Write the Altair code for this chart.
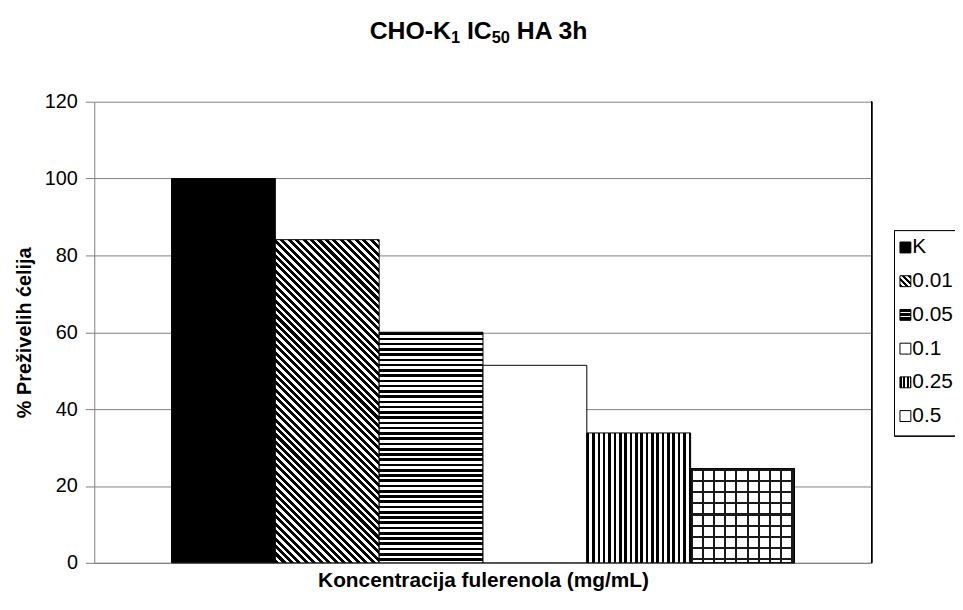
import math
import altair as alt
import pandas as pd

# ---------------- data ----------------
categories = ["K", "0.01", "0.05", "0.1", "0.25", "0.5"]
values = [100, 84.1, 60.0, 51.4, 33.8, 24.5]
y_ticks = [0, 20, 40, 60, 80, 100, 120]

# title pieces: (text, is_subscript)
title_parts = [("CHO-K", False), ("1", True), (" IC", False), ("50", True), (" HA 3h", False)]
y_title = "% Preživelih ćelija"
x_title = "Koncentracija fulerenola (mg/mL)"

# ---------------- layout / style ----------------
W, H = 784, 465
PAD_OUTER = 0.744
YMAX = 120
BAND = W / (len(categories) + 2 * PAD_OUTER)
FONT = "Liberation Sans"
GRAY = "#808080"
CLEAR = "rgba(255,255,255,0)"

# Arial/Liberation Sans Bold advance widths (1/1000 em) for the title glyphs
ADV = {"C": 722, "H": 722, "O": 778, "-": 333, "K": 722, "I": 278, "A": 722,
       " ": 278, "1": 556, "5": 556, "0": 556, "3": 556, "h": 611}
TITLE_BIG, TITLE_SMALL = 25, 16.5
TITLE_CENTER = 483 - 95        # relative to plot left
TITLE_BASE = 37 - 100          # relative to plot top


def stripes(period, length, frac, on, off):
    stops = []
    step = period / length
    pos = 0.0
    while pos < 1 - 1e-9:
        a = pos
        b = min(pos + frac * step, 1.0)
        c = min(pos + step, 1.0)
        stops += [{"offset": a, "color": on}, {"offset": b, "color": on},
                  {"offset": b, "color": off}, {"offset": c, "color": off}]
        pos += step
    return stops


def grad_h(h, period, frac, on="black", off="white"):
    return {"gradient": "linear", "x1": 0, "y1": 0, "x2": 0, "y2": 1,
            "stops": stripes(period, h, frac, on, off)}


def grad_v(w, period, frac, on="black", off="white"):
    return {"gradient": "linear", "x1": 0, "y1": 0, "x2": 1, "y2": 0,
            "stops": stripes(period, w, frac, on, off)}


def grad_diag(w, h, hperiod, frac, on="black", off="white"):
    k = (w + h) / (w * w + h * h)
    return {"gradient": "linear", "x1": 0, "y1": 1, "x2": k * w, "y2": 1 - k * h,
            "stops": stripes(hperiod, w + h, frac, on, off)}


df = pd.DataFrame({"cat": categories, "value": values})
heights = {c: v * H / YMAX for c, v in zip(categories, values)}

x_enc = alt.X("cat:N", sort=categories,
              scale=alt.Scale(domain=categories, paddingInner=0, paddingOuter=PAD_OUTER),
              axis=alt.Axis(title=x_title, labels=False, ticks=False, grid=False,
                            domainColor=GRAY, titlePadding=7,
                            titleFont=FONT, titleFontSize=21, titleFontWeight="bold",
                            titleColor="black"))
y_enc = alt.Y("value:Q",
              scale=alt.Scale(domain=[0, YMAX], nice=False),
              axis=alt.Axis(values=y_ticks, title=y_title, grid=True, gridColor=GRAY,
                            domainColor=GRAY, tickColor=GRAY, tickSize=9,
                            labelPadding=8, titlePadding=10,
                            labelFont=FONT, labelFontSize=20, labelColor="black",
                            titleFont=FONT, titleFontSize=20, titleFontWeight="bold",
                            titleColor="black"))

base = alt.Chart(df).encode(x=x_enc, y=y_enc)


def bar(cat, **kw):
    return base.transform_filter(alt.datum.cat == cat).mark_bar(**kw)


bar_layers = [
    bar("K", fill="black", stroke="black", strokeWidth=1),
    bar("0.01", fill=grad_diag(BAND, heights["0.01"], 7.5, 0.55), stroke="black", strokeWidth=1),
    bar("0.05", fill=grad_h(heights["0.05"], 5.3, 0.5), stroke="black", strokeWidth=1),
    bar("0.1", fill="white", stroke="black", strokeWidth=1),
    bar("0.25", fill=grad_v(BAND, 5.4, 0.48), stroke="black", strokeWidth=1),
    bar("0.5", fill="white", stroke="black", strokeWidth=1),
    bar("0.5", fill=grad_v(BAND, 11.3, 0.18, "#1a1a1a", CLEAR), strokeWidth=0),
    bar("0.5", fill=grad_h(heights["0.5"], 11.3, 0.18, "#1a1a1a", CLEAR), stroke="black", strokeWidth=1),
]
bars = alt.layer(*bar_layers)

# ---------------- legend (drawn with marks) ----------------
leg_df = pd.DataFrame({"cat": categories})
ly = alt.Y("cat:N", sort=categories,
           scale=alt.Scale(type="point", domain=categories, range=[147, 317], padding=0),
           axis=None)
leg_base = alt.Chart(leg_df)

legend_box = leg_base.mark_rect(fill="white", stroke="black", strokeWidth=1).encode(
    x=alt.value(807), x2=alt.value(930), y=alt.value(130), y2=alt.value(337))
right_border = leg_base.mark_rule(color="black", strokeWidth=1).encode(
    x=alt.value(W), y=alt.value(0), y2=alt.value(H))

SYM = 11
legend_fills = {
    "K": "black",
    "0.01": grad_diag(SYM, SYM, 6, 0.6),
    "0.05": grad_h(SYM, 4, 0.55),
    "0.1": "white",
    "0.25": grad_v(SYM, 3.5, 0.5),
    "0.5": "white",
}
legend_syms = [
    leg_base.transform_filter(alt.datum.cat == c).mark_square(
        size=SYM * SYM, fill=legend_fills[c], stroke="black", strokeWidth=1, opacity=1
    ).encode(x=alt.value(818), y=ly)
    for c in categories
]
legend_text = leg_base.mark_text(align="left", baseline="middle", fontSize=21, font=FONT,
                                 color="black").encode(
    x=alt.value(825), y=ly, text="cat:N")

# ---------------- title (text pieces with real subscripts) ----------------
def piece_width(txt, size):
    return sum(ADV[ch] for ch in txt) / 1000 * size

sizes = [TITLE_SMALL if sub else TITLE_BIG for _, sub in title_parts]
total_w = sum(piece_width(t, s) for (t, _), s in zip(title_parts, sizes))
title_layers = []
cursor = TITLE_CENTER - total_w / 2
title_df = pd.DataFrame({"t": [0]})
for (txt, sub), s in zip(title_parts, sizes):
    lead = len(txt) - len(txt.lstrip(" "))
    start = cursor + lead * ADV[" "] / 1000 * s
    title_layers.append(
        alt.Chart(title_df).mark_text(
            text=txt.strip(), align="left", baseline="alphabetic", font=FONT, fontSize=s,
            fontWeight="bold", color="black"
        ).encode(x=alt.value(start), y=alt.value(TITLE_BASE + (4 if sub else 0)))
    )
    cursor += piece_width(txt, s)

legend = alt.layer(legend_box, right_border, *legend_syms, legend_text, *title_layers)

chart = alt.layer(bars, legend).resolve_scale(y="independent", x="independent").properties(
    width=W, height=H,
    padding={"left": 87, "top": 92, "right": 84, "bottom": 36},
    autosize=alt.AutoSizeParams(type="none"),
    background="white",
).configure_view(stroke=None)

chart.save("out.html", embed_options={"renderer": "svg", "actions": False})
